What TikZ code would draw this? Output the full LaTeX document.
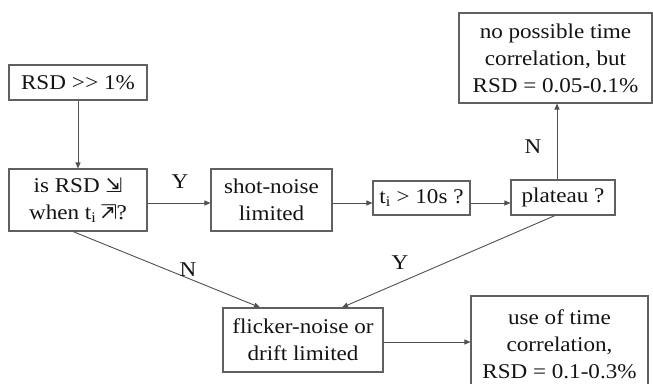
\documentclass[tikz,border=0pt]{standalone}
\usepackage{fontspec}
\setmainfont{Liberation Serif}[FakeStretch=1.1]
\newfontfamily\arrowfont{DejaVu Sans}
\usetikzlibrary{arrows.meta,calc}
\definecolor{boxgray}{HTML}{606060}
\definecolor{linegray}{HTML}{505050}
\definecolor{inkcol}{HTML}{141414}
\newcommand\sedownarrow{{\fontsize{20}{20}\arrowfont\char"21F2}}
\newcommand\neuparrow{\rotatebox[origin=c]{90}{\fontsize{20}{20}\arrowfont\char"21F2}}
\tikzset{
  box/.style={draw=boxgray, line width=1.1pt, align=center, inner sep=0pt,
    font=\fontsize{21}{27}\selectfont, text=inkcol},
  arr/.style={draw=linegray, line width=0.9pt, -{Triangle[length=6pt,width=5pt]}},
  lbl/.style={font=\fontsize{21}{27}\selectfont, text=inkcol, inner sep=0pt}
}
\begin{document}
\begin{tikzpicture}[x=1pt,y=-1pt]
\useasboundingbox (0,0) rectangle (653,383);
\clip (0,0) rectangle (653,383);
\fill[white] (0,0) rectangle (653,383);

% decision chain
\node[box, minimum width=138pt, minimum height=35pt] (b1) at (78,82.5) {RSD >\kern0.5pt> 1\%};
\node[box, minimum width=138pt, minimum height=62pt] (b2) at (78,200)
  {is RSD \sedownarrow\\ when t\textsubscript{i} \neuparrow?};
\node[box, minimum width=121pt, minimum height=62pt] (b3) at (271.5,200)
  {shot-noise\\ limited};
\node[box, minimum width=97pt, minimum height=34pt] (b4) at (421.5,198)
  {t\textsubscript{i} > 10s ?};
\node[box, minimum width=104pt, minimum height=35pt] (b5) at (563,197.5)
  {plateau ?};
\node[box, minimum width=193pt, minimum height=90pt] (b6) at (555.5,58)
  {no possible time\\ correlation, but\\ RSD = 0.05-0.1\%};
\node[box, minimum width=160pt, minimum height=64pt] (b7) at (303,340)
  {flicker-noise or\\ drift limited};
\node[box, minimum width=177pt, minimum height=96pt] (b8) at (559.5,344)
  {use of time\\ correlation,\\ RSD = 0.1-0.3\%};

% connectors
\draw[arr] (b1) -- (b2);
\draw[arr] (b2.east |- 0,203) -- (b3.west |- 0,203);
\draw[arr] (b3.east |- 0,203) -- (b4.west |- 0,203);
\draw[arr] (b4.east |- 0,203) -- (b5.west |- 0,203);
\draw[arr] (b5.north -| 557,0) -- (b6.south -| 557,0);
\draw[arr] ($(b2.south)+(-5,0)$) -- ($(b7.north)+(-43,0)$);
\draw[arr] ($(b5.south)+(-8,0)$) -- ($(b7.north)+(39,0)$);
\draw[arr] (b7.east |- 0,342) -- (b8.west |- 0,342);

% branch labels
\node[lbl] (ly1) at (180,182) {Y};
\node[lbl] (ln1) at (533,147) {N};
\node[lbl] (ln2) at (188,270) {N};
\node[lbl] (ly2) at (400,263) {Y};
\end{tikzpicture}
\end{document}
